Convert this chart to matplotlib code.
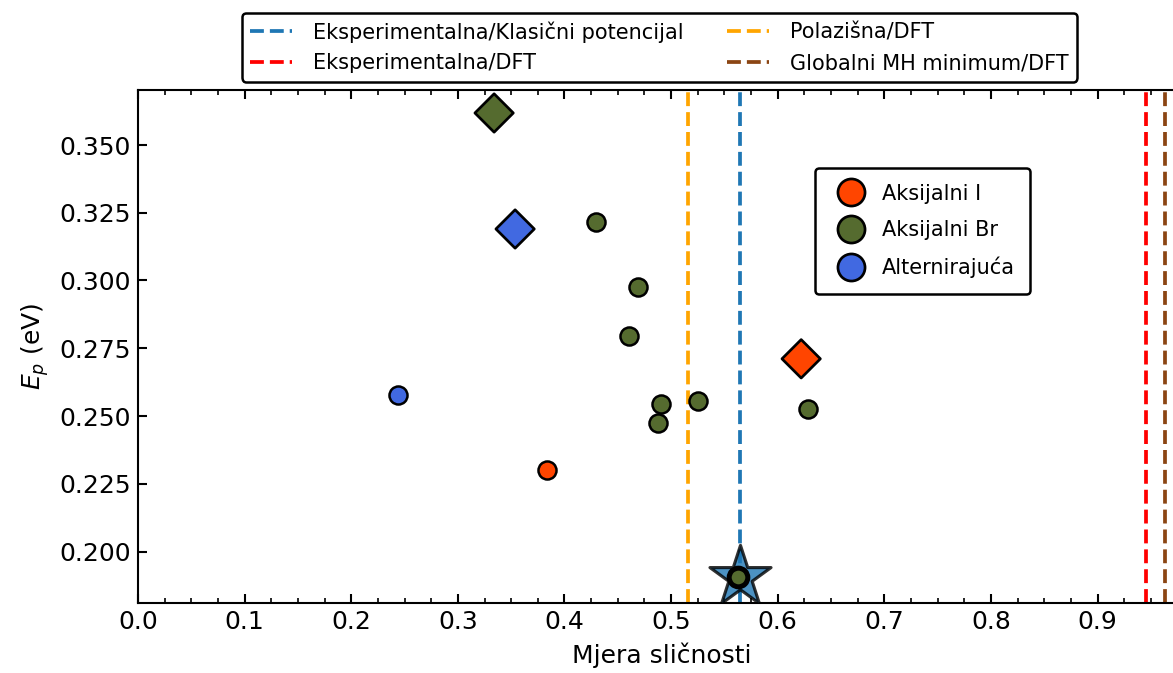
import matplotlib.pyplot as plt
from matplotlib.lines import Line2D
from matplotlib.ticker import MultipleLocator

# vertical reference lines
ref_labels = ['Eksperimentalna/Klasični potencijal', 'Eksperimentalna/DFT',
              'Polazišna/DFT', 'Globalni MH minimum/DFT']
ref_x = [0.5647, 0.9456, 0.516, 0.963]
ref_colors = ['#1f77b4', 'red', 'orange', '#8B4513']

# small circles
axI_x = [0.3837]
axI_y = [0.2302]
axBr_x = [0.4296, 0.469, 0.4606, 0.6285, 0.4906, 0.5253, 0.4878]
axBr_y = [0.3216, 0.2976, 0.2796, 0.2527, 0.2545, 0.2556, 0.2475]
alt_x = [0.2439]
alt_y = [0.2578]

# diamonds (one per group)
dia_x = [0.622, 0.334, 0.3537]
dia_y = [0.2711, 0.3618, 0.3190]

# star (experimental structure) and point on it
star_x = [0.5647]
star_y = [0.1907]
mid_x = [0.5630]
mid_y = [0.1905]

group_labels = ['Aksijalni I', 'Aksijalni Br', 'Alternirajuća']
group_colors = ['#FF4500', '#556B2F', '#4169E1']

fig = plt.figure(figsize=(7.82, 4.487), dpi=150)
ax = fig.add_axes([138 / 1173, 1 - 603 / 673, 1047 / 1173, 513 / 673])

for x, c in zip(ref_x, ref_colors):
    ax.axvline(x, color=c, ls='--', lw=1.8, zorder=1)
handles = [Line2D([], [], color=c, ls='--', lw=1.8, label=l)
           for c, l in zip(ref_colors, ref_labels)]

ax.scatter(star_x, star_y, s=950, marker='*', color='#1f77b4', edgecolor='black',
           linewidth=1.5, alpha=0.8, zorder=3)
ax.scatter(mid_x, mid_y, s=80, marker='o', color=group_colors[1], edgecolor='black',
           linewidth=2.4, zorder=4)

for xs, ys, c in zip([axI_x, axBr_x, alt_x], [axI_y, axBr_y, alt_y], group_colors):
    ax.scatter(xs, ys, s=75, marker='o', color=c, edgecolor='black', linewidth=1.2, zorder=3)
ax.scatter(dia_x, dia_y, s=170, marker='D', color=group_colors, edgecolor='black',
           linewidth=1.3, zorder=3)

ax.set_xlim(0, 0.982)
ax.set_ylim(0.181, 0.3703)
ax.xaxis.set_major_locator(MultipleLocator(0.1))
ax.xaxis.set_minor_locator(MultipleLocator(0.025))
ax.yaxis.set_major_locator(MultipleLocator(0.025))
ax.tick_params(which='both', direction='in', top=True, right=True, labelsize=12)
ax.tick_params(which='major', length=4.5, width=1)
ax.tick_params(which='minor', length=2.5, width=0.8)
ax.tick_params(axis='y', which='minor', left=False, right=False)
for s in ax.spines.values():
    s.set_linewidth(1)

ax.set_xlabel('Mjera sličnosti', fontsize=12)
ax.set_ylabel('$E_p$ (eV)', fontsize=12)

leg1 = fig.legend(handles=handles, ncol=2, fontsize=10, loc='upper left',
                  bbox_to_anchor=(242 / 1173, 1 - 13 / 673), borderaxespad=0,
                  framealpha=1, edgecolor='black', handletextpad=1.0,
                  columnspacing=2.1)
leg1.get_frame().set_linewidth(1.2)

grp_handles = [Line2D([], [], ls='', marker='o', markersize=13, markerfacecolor=c,
                      markeredgecolor='black', markeredgewidth=1.3, label=l)
               for c, l in zip(group_colors, group_labels)]
leg2 = fig.legend(handles=grp_handles, fontsize=10, loc='upper left',
                  bbox_to_anchor=(815 / 1173, 1 - 168 / 673), borderaxespad=0,
                  framealpha=1, edgecolor='black', labelspacing=0.8, borderpad=0.75,
                  handletextpad=0.45)
leg2.get_frame().set_linewidth(1.2)

fig.savefig('out.png', dpi=150)
